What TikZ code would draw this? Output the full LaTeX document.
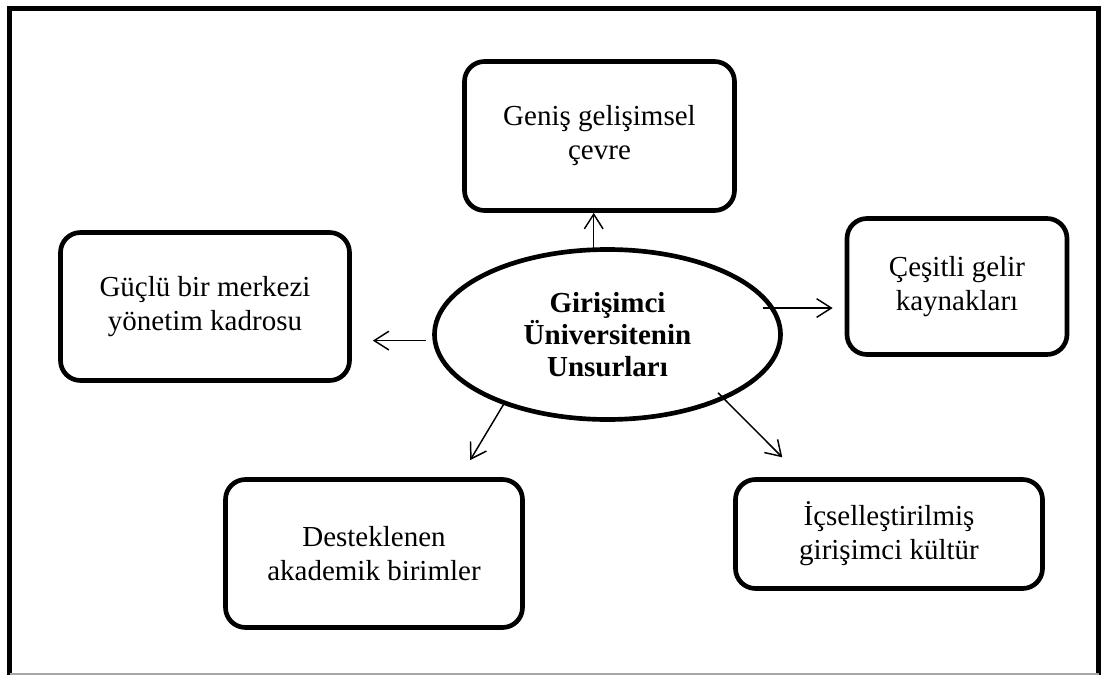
\documentclass[tikz,border=0pt]{standalone}
\usepackage{fontspec}
\setmainfont{Liberation Serif}
\usetikzlibrary{shapes.geometric,arrows.meta,calc}

\begin{document}
\begin{tikzpicture}[x=0.75pt,y=0.75pt,yscale=-1,xscale=1,
  unsur/.style={draw,line width=3.5pt,rounded corners=15pt,align=center,inner sep=0pt,font=\fontsize{21.75}{25.5}\selectfont},
  merkez/.style={draw,ellipse,line width=3.5pt,align=center,inner sep=0pt,minimum width=259.5pt,minimum height=127.5pt,font=\bfseries\fontsize{21.75}{24}\selectfont},
  ok/.style={line width=1.1pt,-{Straight Barb[length=11pt,width=14pt]}}]
\useasboundingbox (0,0) rectangle (1101,675);

%Frame
\draw [line width=3.4pt] (9.5,675) -- (9.5,8.5) -- (1098.5,8.5) -- (1098.5,675) ;
\draw [gray!70,line width=1.5pt] (9.5,674) -- (1098.5,674) ;

%Center
\node [merkez] (ell) at (607.5,334.5) {Girişimci\\Üniversitenin\\Unsurları};

%Boxes
\node [unsur,minimum width=202.5pt,minimum height=111.75pt] (top) at (599.5,136) {Geniş gelişimsel\\çevre};
\node [unsur,minimum width=165pt,minimum height=102pt] (rt) at (957,286.5) {Çeşitli gelir\\kaynakları};
\node [unsur,minimum width=216.75pt,minimum height=111pt] (lt) at (205,306.5) {Güçlü bir merkezi\\yönetim kadrosu};
\node [unsur,minimum width=222.75pt,minimum height=111pt] (bl) at (374,553.5) {Desteklenen\\akademik birimler};
\node [unsur,minimum width=230.25pt,minimum height=81.75pt] (br) at (889,534) {İçselleştirilmiş\\girişimci kültür};

%Arrows
\draw [ok,shorten <=-3pt] (ell.99.5) -- (ell.99.5 |- top.south) ;
\draw [ok,shorten <=-9pt,shorten >=9pt] (ell.9) -- (ell.9 -| rt.west) ;
\draw [ok,shorten <=5pt,shorten >=15.75pt] (ell.182) -- (ell.182 -| lt.east) ;
\draw [ok,shorten >=15pt] (ell.-146.5) -- ($(bl.north west)!0.785!(bl.north east)$) ;
\draw [ok,shorten <=-7pt,shorten >=21pt] (ell.-29) -- ($(br.north west)!0.221!(br.north east)$) ;

\end{tikzpicture}
\end{document}
